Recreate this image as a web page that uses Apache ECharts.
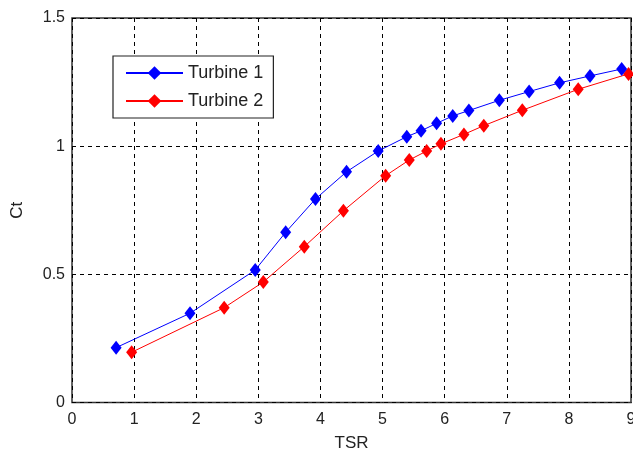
<!DOCTYPE html>
<html>
<head>
<meta charset="utf-8">
<script src="https://cdn.jsdelivr.net/npm/echarts@6/dist/echarts.min.js"></script>
<style>html,body{margin:0;padding:0;background:#fff}#c{width:633px;height:456px}</style>
</head>
<body>
<div id="c"></div>
<script>
const t1x = [0.71, 1.90, 2.95, 3.44, 3.92, 4.42, 4.93, 5.39, 5.62, 5.87, 6.13, 6.39, 6.88, 7.36, 7.85, 8.34, 8.85];
const t1y = [0.214, 0.348, 0.517, 0.664, 0.794, 0.900, 0.981, 1.037, 1.060, 1.089, 1.118, 1.139, 1.179, 1.213, 1.247, 1.274, 1.301];
const t2x = [0.96, 2.45, 3.08, 3.74, 4.37, 5.05, 5.43, 5.71, 5.94, 6.31, 6.63, 7.25, 8.15, 8.96];
const t2y = [0.196, 0.370, 0.470, 0.608, 0.748, 0.885, 0.946, 0.981, 1.009, 1.046, 1.080, 1.140, 1.222, 1.282];
const xTicks = [0,1,2,3,4,5,6,7,8,9];
const yTicks = [0,0.5,1,1.5];
const seriesNames = ['Turbine 1', 'Turbine 2'];

const FONT = 'Liberation Sans, Arial, sans-serif';
const chart = echarts.init(document.getElementById('c'), null, {renderer:'canvas'});
const zip = (xs, ys) => xs.map((x,i)=>[x, ys[i]]);
const gridLine = {show:true, lineStyle:{color:'#000', type:[4,4], width:1}};
chart.setOption({
  animation:false,
  backgroundColor:'#fff',
  grid:{left:72, right:2, top:18, bottom:53.5, outerBoundsMode:'none', containLabel:false,
        show:true, borderColor:'#333', borderWidth:1.5, backgroundColor:'transparent'},
  legend:{
    orient:'vertical', left:113, top:56,
    data:seriesNames,
    backgroundColor:'#fff', borderColor:'#222', borderWidth:1.2,
    padding:[7,10,7,12], itemGap:8, itemWidth:57, itemHeight:17, itemTextGap:6,
    textStyle:{fontFamily:FONT, fontSize:18, color:'#222', lineHeight:20}
  },
  xAxis:{
    type:'value', min:xTicks[0], max:xTicks[xTicks.length-1], interval:1,
    name:'TSR', nameLocation:'middle', nameGap:32,
    nameTextStyle:{fontFamily:FONT, fontSize:17, color:'#222'},
    axisLine:{show:false}, axisTick:{show:false},
    axisLabel:{fontFamily:FONT, fontSize:16, color:'#222', margin:9},
    splitLine:gridLine
  },
  yAxis:{
    type:'value', min:yTicks[0], max:yTicks[yTicks.length-1], interval:0.5,
    name:'Ct', nameLocation:'middle', nameGap:46,
    nameTextStyle:{fontFamily:FONT, fontSize:17, color:'#222'},
    axisLine:{show:false}, axisTick:{show:false},
    axisLabel:{fontFamily:FONT, fontSize:16, color:'#222', margin:7},
    splitLine:gridLine
  },
  series:[
    {name:seriesNames[0], type:'line', data:zip(t1x,t1y), symbol:'diamond', symbolSize:[11,14],
     lineStyle:{color:'#0000ff', width:1}, itemStyle:{color:'#0000ff'}, z:3},
    {name:seriesNames[1], type:'line', data:zip(t2x,t2y), symbol:'diamond', symbolSize:[11,14],
     lineStyle:{color:'#ff0000', width:1}, itemStyle:{color:'#ff0000'}, z:2}
  ]
});
</script>
</body>
</html>
